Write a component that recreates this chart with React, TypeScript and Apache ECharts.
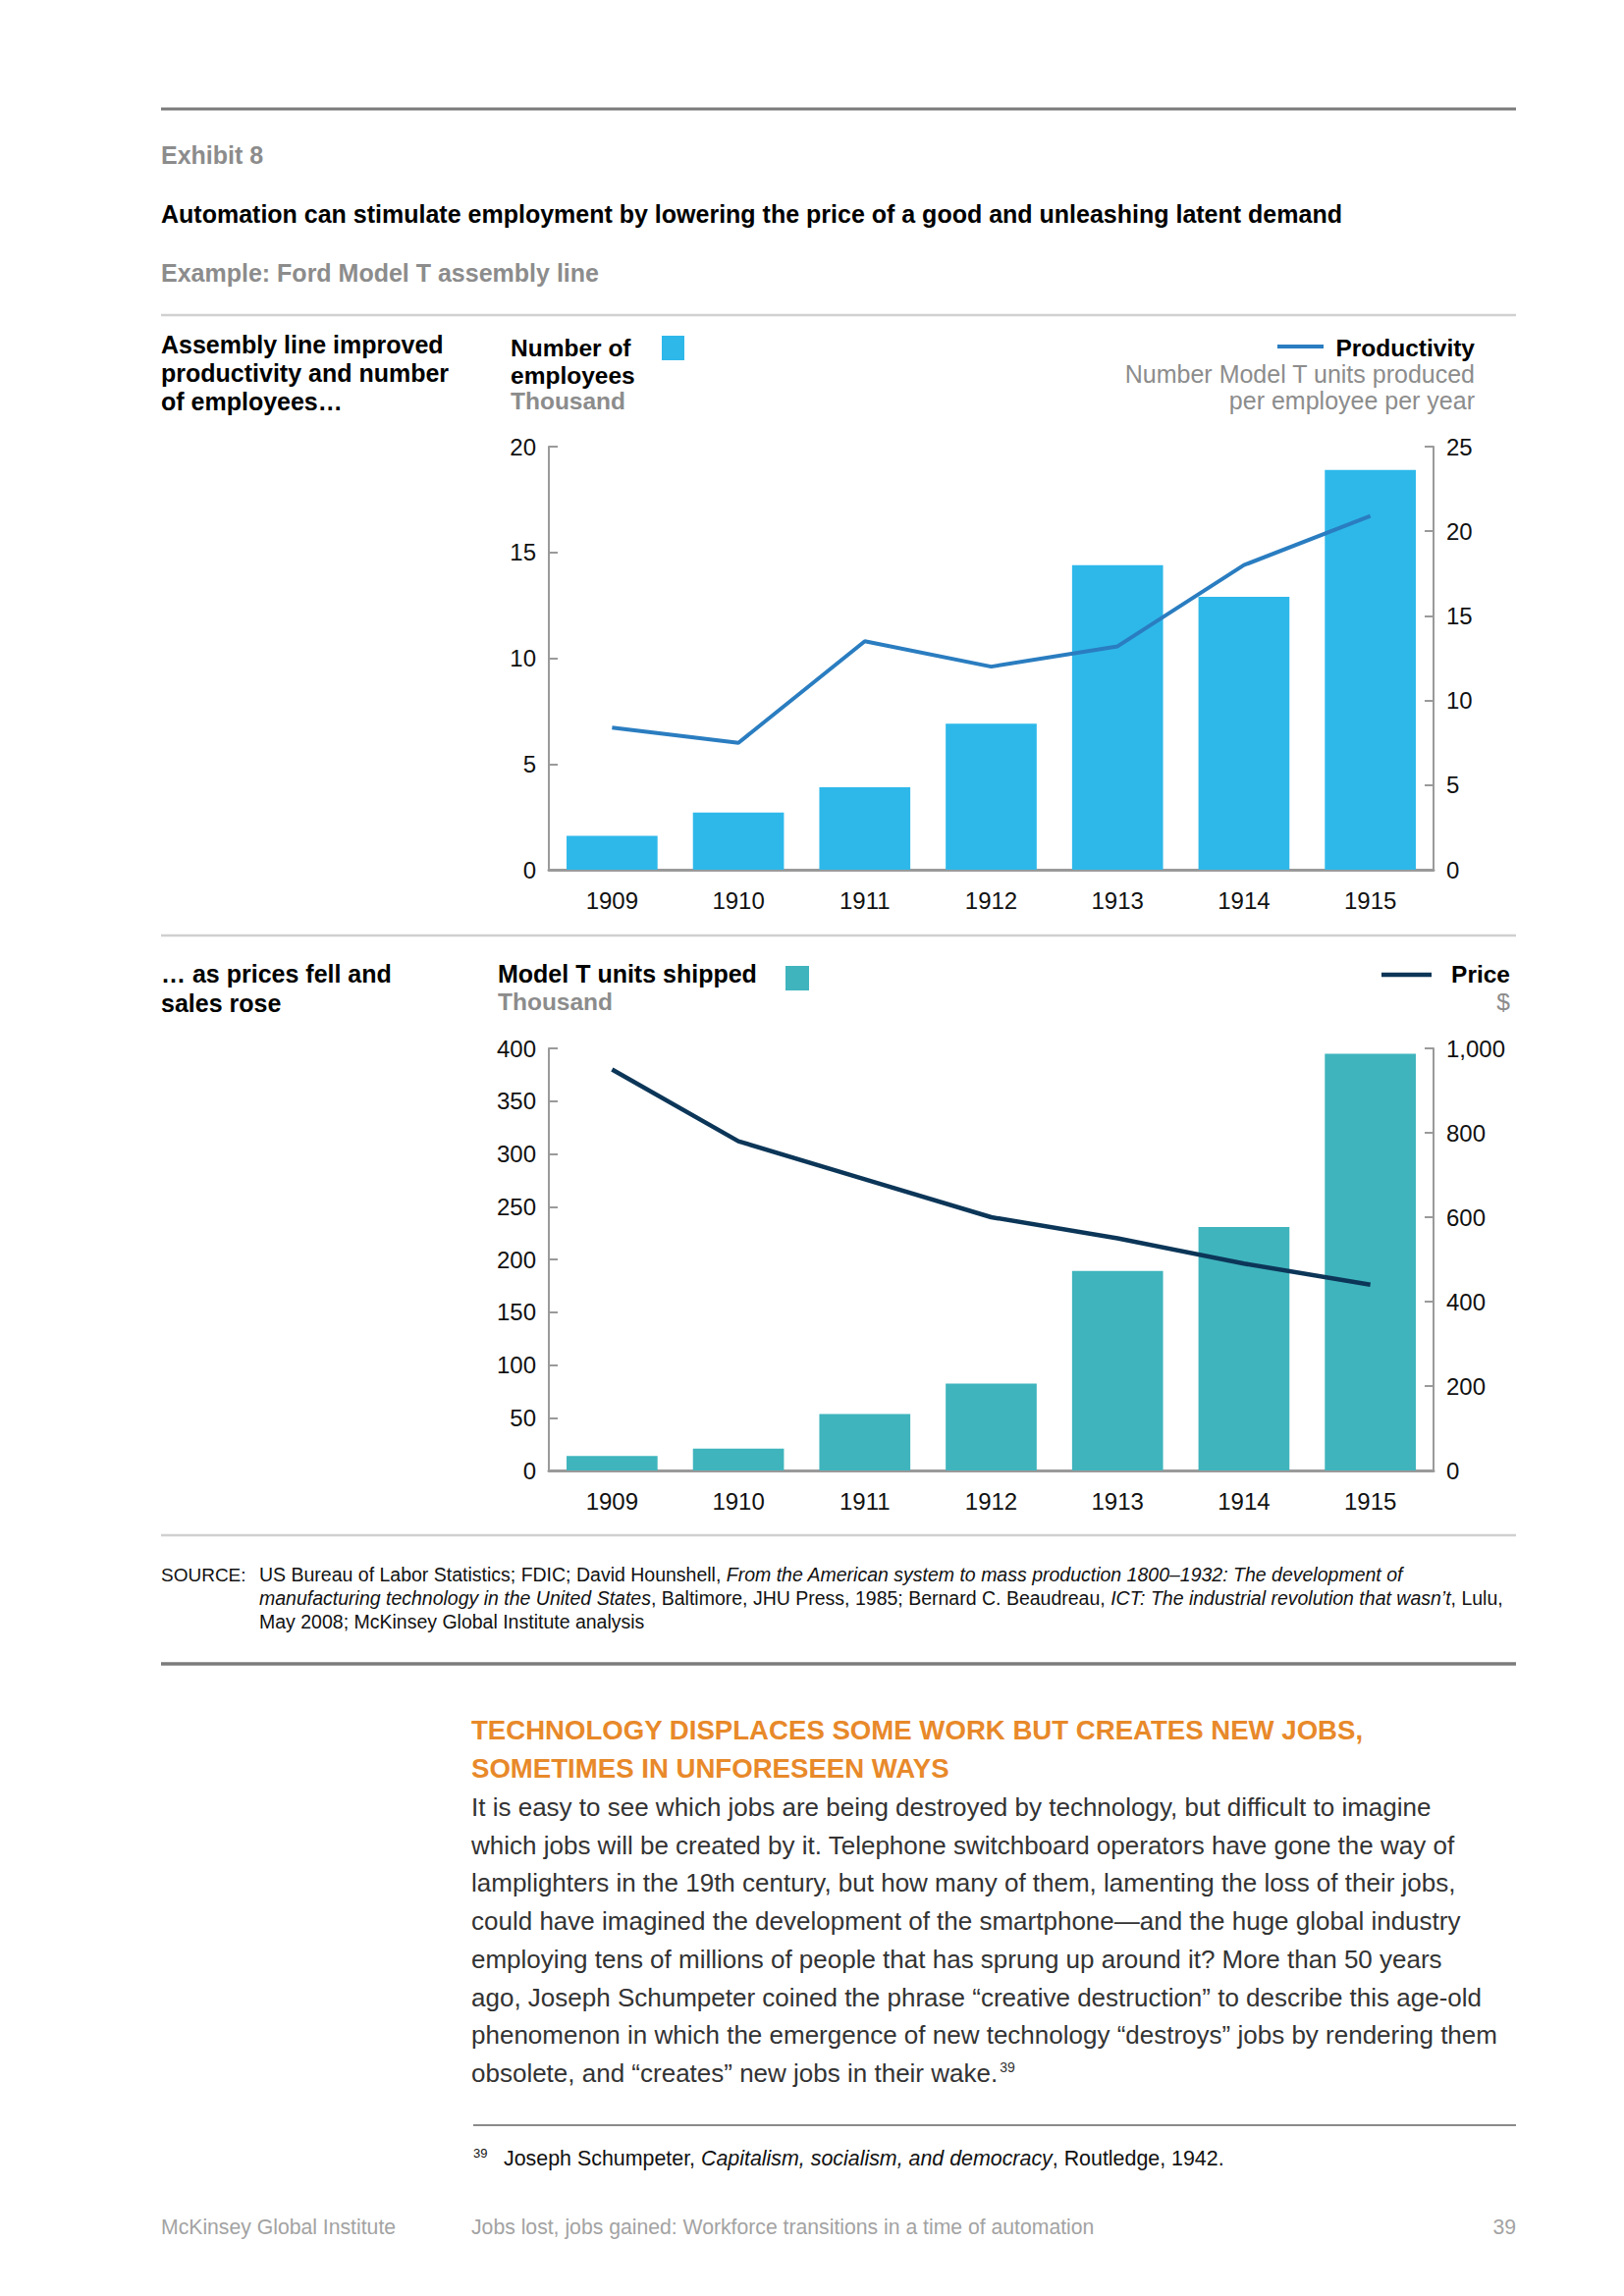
import React, { useEffect, useRef } from "react";
import * as echarts from "echarts";

// ---- Data ----
const years = ["1909", "1910", "1911", "1912", "1913", "1914", "1915"];
const employeesThousand = [1.6, 2.7, 3.9, 6.9, 14.4, 12.9, 18.9];
const productivity = [8.4, 7.5, 13.5, 12.0, 13.2, 18.0, 20.9];
const unitsShippedThousand = [13.8, 20.7, 53.5, 82.4, 189.1, 230.8, 394.8];
const priceDollars = [950, 780, 690, 600, 550, 490, 440];

const bodyLines = [
  "It is easy to see which jobs are being destroyed by technology, but difficult to imagine",
  "which jobs will be created by it. Telephone switchboard operators have gone the way of",
  "lamplighters in the 19th century, but how many of them, lamenting the loss of their jobs,",
  "could have imagined the development of the smartphone\u2014and the huge global industry",
  "employing tens of millions of people that has sprung up around it? More than 50 years",
  "ago, Joseph Schumpeter coined the phrase \u201Ccreative destruction\u201D to describe this age-old",
  "phenomenon in which the emergence of new technology \u201Cdestroys\u201D jobs by rendering them",
];
const bodyLastLine = "obsolete, and \u201Ccreates\u201D new jobs in their wake.";
const headingLines = [
  "TECHNOLOGY DISPLACES SOME WORK BUT CREATES NEW JOBS,",
  "SOMETIMES IN UNFORESEEN WAYS",
];

const FONT = '"Liberation Sans", Arial, Helvetica, sans-serif';
const C_EMP = "#2EB8EA";
const C_PROD = "#2A7DC0";
const C_UNITS = "#3FB4BD";
const C_PRICE = "#0C3658";
const C_AXIS = "#9a9a9a";
const C_GREY_TEXT = "#8c8c8c";

function txt(
  x: number,
  y: number,
  text: string,
  o: { size?: number; weight?: string; color?: string; align?: string; style?: string } = {}
) {
  return {
    type: "text",
    x,
    y,
    silent: true,
    style: {
      text,
      fill: o.color || "#000",
      fontSize: o.size || 24,
      fontWeight: o.weight || "normal",
      fontStyle: o.style || "normal",
      fontFamily: FONT,
      align: o.align || "left",
      verticalAlign: "middle",
    },
  };
}

function rich(x: number, y: number, text: string, size: number, color: string) {
  return {
    type: "text",
    x,
    y,
    silent: true,
    style: {
      text,
      fill: color,
      fontSize: size,
      fontFamily: FONT,
      align: "left",
      verticalAlign: "middle",
      rich: {
        n: { fontSize: size, fontFamily: FONT, fill: color, color },
        i: { fontSize: size, fontFamily: FONT, fontStyle: "italic", fill: color, color },
        sup: { fontSize: Math.round(size * 0.55), fontFamily: FONT, fill: color, color, verticalAlign: "top", padding: [0, 0, 0, 2] },
      },
    },
  };
}

function rule(y: number, x1: number, x2: number, color: string, w: number) {
  return {
    type: "line",
    silent: true,
    shape: { x1, y1: y, x2, y2: y },
    style: { stroke: color, lineWidth: w },
  };
}

function valueAxis(gridIndex: number, position: string, max: number, interval: number, fmt?: (v: number) => string) {
  return {
    type: "value",
    gridIndex,
    position,
    min: 0,
    max,
    interval,
    axisLine: { show: true, lineStyle: { color: C_AXIS, width: 2 } },
    axisTick: { show: true, inside: true, length: 9, lineStyle: { color: C_AXIS, width: 2 } },
    splitLine: { show: false },
    axisLabel: {
      color: "#111",
      fontSize: 24,
      fontFamily: FONT,
      margin: 13,
      formatter: fmt || ((v: number) => String(v)),
    },
  };
}

function catAxis(gridIndex: number) {
  return {
    type: "category",
    gridIndex,
    data: years,
    axisLine: { show: true, lineStyle: { color: C_AXIS, width: 3 } },
    axisTick: { show: false },
    axisLabel: { color: "#111", fontSize: 24, fontFamily: FONT, margin: 19 },
  };
}

export default function App() {
  const ref = useRef<HTMLDivElement>(null);

  useEffect(() => {
    if (!ref.current) return;
    const chart = echarts.init(ref.current, null, { renderer: "svg", width: 1654, height: 2339 });

    const elements: any[] = [
      rule(111, 164, 1544, "#7b7b7b", 3),
      txt(164, 158, "Exhibit 8", { size: 25, weight: "bold", color: C_GREY_TEXT }),
      txt(164, 218, "Automation can stimulate employment by lowering the price of a good and unleashing latent demand", {
        size: 25,
        weight: "bold",
        color: "#000",
      }),
      txt(164, 278, "Example: Ford Model T assembly line", { size: 25, weight: "bold", color: C_GREY_TEXT }),
      rule(321, 164, 1544, "#d0d0d0", 2.5),

      // Panel 1 headers
      txt(164, 351, "Assembly line improved", { size: 25, weight: "bold" }),
      txt(164, 380, "productivity and number", { size: 25, weight: "bold" }),
      txt(164, 409, "of employees\u2026", { size: 25, weight: "bold" }),
      txt(520, 354, "Number of", { size: 24.5, weight: "bold" }),
      txt(520, 382, "employees", { size: 24.5, weight: "bold" }),
      txt(520, 408, "Thousand", { size: 24.5, weight: "bold", color: C_GREY_TEXT }),
      { type: "rect", silent: true, shape: { x: 674, y: 342, width: 23, height: 25 }, style: { fill: C_EMP } },
      { type: "line", silent: true, shape: { x1: 1301, y1: 353, x2: 1348, y2: 353 }, style: { stroke: C_PROD, lineWidth: 4 } },
      txt(1502, 354, "Productivity", { size: 24.5, weight: "bold", align: "right" }),
      txt(1502, 381, "Number Model T units produced", { size: 25, color: C_GREY_TEXT, align: "right" }),
      txt(1502, 408, "per employee per year", { size: 25, color: C_GREY_TEXT, align: "right" }),

      rule(953, 164, 1544, "#d0d0d0", 2.5),

      // Panel 2 headers
      txt(164, 992, "\u2026 as prices fell and", { size: 25, weight: "bold" }),
      txt(164, 1022, "sales rose", { size: 25, weight: "bold" }),
      txt(507, 992, "Model T units shipped", { size: 25, weight: "bold" }),
      txt(507, 1020, "Thousand", { size: 24.5, weight: "bold", color: C_GREY_TEXT }),
      { type: "rect", silent: true, shape: { x: 800, y: 984, width: 24, height: 25 }, style: { fill: C_UNITS } },
      { type: "line", silent: true, shape: { x1: 1407, y1: 993, x2: 1458, y2: 993 }, style: { stroke: C_PRICE, lineWidth: 4.5 } },
      txt(1538, 992, "Price", { size: 24.5, weight: "bold", align: "right" }),
      txt(1538, 1020, "$", { size: 24.5, color: C_GREY_TEXT, align: "right" }),

      rule(1564, 164, 1544, "#d0d0d0", 2.5),

      // Source
      txt(164, 1604, "SOURCE:", { size: 19, color: "#111" }),
      rich(
        264,
        1604,
        "{n|US Bureau of Labor Statistics; FDIC; David Hounshell, }{i|From the American system to mass production 1800\u20131932: The development of}",
        19.5,
        "#111"
      ),
      rich(
        264,
        1628,
        "{i|manufacturing technology in the United States}{n|, Baltimore, JHU Press, 1985; Bernard C. Beaudreau, }{i|ICT: The industrial revolution that wasn\u2019t}{n|, Lulu,}",
        19.5,
        "#111"
      ),
      rich(264, 1652, "{n|May 2008; McKinsey Global Institute analysis}", 19.5, "#111"),

      rule(1695, 164, 1544, "#7b7b7b", 3.5),

      // Body
      ...headingLines.map((l, i) => txt(480, 1762 + i * 39, l, { size: 27.6, weight: "bold", color: "#E8892A" })),
      ...bodyLines.map((l, i) => txt(480, 1841 + i * 38.7, l, { size: 26, color: "#333" })),
      rich(480, 1841 + 7 * 38.7, "{n|" + bodyLastLine + "}{sup|39}", 26, "#333"),

      rule(2165, 482, 1544, "#8a8a8a", 2),
      txt(482, 2193, "39", { size: 13, color: "#111" }),
      rich(513, 2199, "{n|Joseph Schumpeter, }{i|Capitalism, socialism, and democracy}{n|, Routledge, 1942.}", 21.4, "#111"),

      // Footer
      txt(164, 2268, "McKinsey Global Institute", { size: 21.2, color: "#a3a3a3" }),
      txt(480, 2268, "Jobs lost, jobs gained: Workforce transitions in a time of automation", { size: 21.2, color: "#a3a3a3" }),
      txt(1544, 2268, "39", { size: 21.2, color: "#a3a3a3", align: "right" }),
    ];

    const option: any = {
      animation: false,
      backgroundColor: "#ffffff",
      grid: [
        { left: 559, top: 455, width: 901, height: 431, containLabel: false },
        { left: 559, top: 1068, width: 901, height: 430, containLabel: false },
      ],
      xAxis: [catAxis(0), catAxis(1)],
      yAxis: [
        valueAxis(0, "left", 20, 5),
        valueAxis(0, "right", 25, 5),
        valueAxis(1, "left", 400, 50),
        valueAxis(1, "right", 1000, 200, (v: number) => v.toLocaleString("en-US")),
      ],
      series: [
        {
          name: "Number of employees",
          type: "bar",
          xAxisIndex: 0,
          yAxisIndex: 0,
          data: employeesThousand,
          barCategoryGap: "28%",
          itemStyle: { color: C_EMP },
          z: 2,
        },
        {
          name: "Productivity",
          type: "line",
          xAxisIndex: 0,
          yAxisIndex: 1,
          data: productivity,
          symbol: "none",
          lineStyle: { color: C_PROD, width: 4 },
          z: 3,
        },
        {
          name: "Model T units shipped",
          type: "bar",
          xAxisIndex: 1,
          yAxisIndex: 2,
          data: unitsShippedThousand,
          barCategoryGap: "28%",
          itemStyle: { color: C_UNITS },
          z: 2,
        },
        {
          name: "Price",
          type: "line",
          xAxisIndex: 1,
          yAxisIndex: 3,
          data: priceDollars,
          symbol: "none",
          lineStyle: { color: C_PRICE, width: 4.5 },
          z: 3,
        },
      ],
      graphic: { elements },
    };

    chart.setOption(option);
    return () => chart.dispose();
  }, []);

  return (
    <div
      ref={ref}
      style={{ position: "absolute", left: 0, top: 0, width: 1654, height: 2339, background: "#fff" }}
    />
  );
}
